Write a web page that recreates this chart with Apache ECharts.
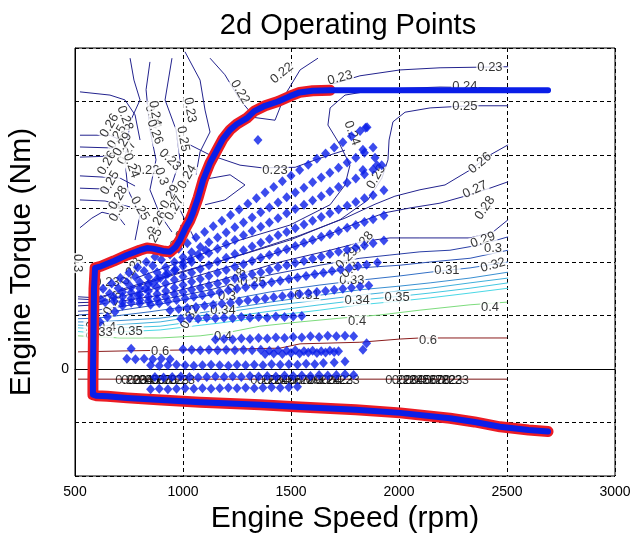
<!DOCTYPE html>
<html>
<head>
<meta charset="utf-8">
<script src="https://cdn.jsdelivr.net/npm/echarts@6/dist/echarts.min.js"></script>
<style>
  html, body { margin: 0; background: #fff; }
  #chart { width: 634px; height: 533px; }
</style>
</head>
<body>
<div id="chart"></div>
<script>
  // 2d operating points over an efficiency map

  const speedTicks = [500, 1000, 1500, 2000, 2500, 3000]
  const torqueRange = [-200, 600]

  // max / min torque envelope [rpm, Nm]
  const torqueCurve = [
    [2690, 521], [2400, 521], [2000, 521], [1681, 521], [1600, 520], [1540, 517], [1495, 510],
    [1440, 500], [1380, 492], [1330, 482], [1296, 469], [1250, 458], [1218, 447], [1185, 430],
    [1157, 409], [1125, 385], [1093, 353], [1070, 320], [1046, 292], [1032, 278], [1010, 262],
    [986, 241], [965, 228], [940, 219], [915, 220], [894, 222], [860, 225], [833, 226], [800, 222],
    [741, 213], [680, 202], [620, 192], [593, 189], [588, 150], [585, 50], [583, -20], [583, -48],
    [600, -50], [650, -51], [741, -54], [900, -58], [1079, -62], [1357, -67], [1542, -71],
    [1800, -76], [2005, -82], [2236, -92], [2350, -99], [2468, -108], [2600, -114], [2690, -117]
  ]

  // measured operating points [rpm, Nm]
  const operatingPoints = [
    // fan streaks
    [620, 130], [660, 141], [700, 151], [740, 162], [780, 172], [820, 183], [860, 193], [900, 204],
    [940, 214], [980, 225], [1020, 235], [1060, 246], [1100, 256], [1140, 267], [1180, 277], [1220, 288],
    [1260, 298], [1300, 309], [1340, 319], [1380, 330], [1420, 340], [1460, 351], [1500, 361], [1540, 372],
    [1580, 382], [1620, 393], [1660, 403], [1700, 414], [1740, 424], [1780, 435], [1820, 445], [1845, 451],
    [640, 125], [680, 134], [720, 144], [760, 153], [800, 162], [840, 172], [880, 181], [920, 190],
    [960, 200], [1000, 209], [1040, 218], [1080, 228], [1120, 237], [1160, 246], [1200, 255], [1240, 265],
    [1280, 274], [1320, 283], [1360, 293], [1400, 302], [1440, 311], [1480, 321], [1520, 330], [1560, 339],
    [1600, 349], [1640, 358], [1680, 367], [1720, 376], [1760, 386], [1800, 395], [1840, 404], [1880, 414],
    [680, 127], [720, 135], [760, 143], [800, 151], [840, 159], [880, 168], [920, 176], [960, 184],
    [1000, 192], [1040, 200], [1080, 209], [1120, 217], [1160, 225], [1200, 233], [1240, 241], [1280, 250],
    [1320, 258], [1360, 266], [1400, 274], [1440, 282], [1480, 291], [1520, 299], [1560, 307], [1600, 315],
    [1640, 323], [1680, 332], [1720, 340], [1760, 348], [1800, 356], [1840, 364], [1880, 373], [1920, 381],
    [720, 125], [760, 132], [800, 139], [840, 146], [880, 153], [920, 160], [960, 167], [1000, 173],
    [1040, 180], [1080, 187], [1120, 194], [1160, 201], [1200, 208], [1240, 215], [1280, 222], [1320, 229],
    [1360, 236], [1400, 243], [1440, 250], [1480, 256], [1520, 263], [1560, 270], [1600, 277], [1640, 284],
    [1680, 291], [1720, 298], [1760, 305], [1800, 312], [1840, 319], [1880, 325], [1930, 334],
    [760, 124], [800, 129], [840, 135], [880, 140], [920, 146], [960, 152], [1000, 157], [1040, 163],
    [1080, 168], [1120, 174], [1160, 180], [1200, 185], [1240, 191], [1280, 196], [1320, 202], [1360, 208],
    [1400, 213], [1440, 219], [1480, 224], [1520, 230], [1560, 236], [1600, 241], [1640, 247], [1680, 252],
    [1720, 258], [1760, 264], [1800, 269], [1840, 275], [1880, 280], [1930, 287],
    [800, 123], [840, 127], [880, 131], [920, 135], [960, 140], [1000, 144], [1040, 148], [1080, 152],
    [1120, 156], [1160, 160], [1200, 165], [1240, 169], [1280, 173], [1320, 177], [1360, 181], [1400, 185],
    [1440, 190], [1480, 194], [1520, 198], [1560, 202], [1600, 206], [1640, 210], [1680, 215], [1720, 219],
    [1760, 223], [1800, 227], [1840, 231], [1880, 235], [1930, 240],
    [850, 120], [890, 123], [930, 126], [970, 129], [1010, 132], [1050, 135], [1090, 138], [1130, 141],
    [1170, 144], [1210, 147], [1250, 150], [1290, 153], [1330, 156], [1370, 159], [1410, 162], [1450, 165],
    [1490, 168], [1530, 171], [1570, 174], [1610, 177], [1650, 180], [1690, 183], [1730, 186], [1770, 189],
    [1810, 192], [1850, 195], [1900, 199],
    [940, 110], [980, 112], [1020, 114], [1060, 116], [1100, 118], [1140, 120], [1180, 122], [1220, 124],
    [1260, 126], [1300, 128], [1340, 130], [1380, 132], [1420, 134], [1460, 136], [1500, 138], [1540, 140],
    [1580, 142], [1620, 144], [1660, 146], [1700, 148], [1740, 150], [1780, 152], [1820, 154], [1860, 156],
    // dense band near the low speed corner
    [616, 88], [650, 97], [685, 107], [720, 118], [790, 138], [825, 150], [860, 160], [895, 170],
    [930, 178], [965, 186], [1000, 198], [1035, 205], [1070, 214], [1105, 222],
    [630, 150], [670, 160], [710, 170], [750, 180], [790, 190], [830, 200], [870, 210], [910, 220],
    // constant torque rows
    [990, 94], [1030, 95], [1070, 94], [1110, 96], [1150, 95], [1190, 96], [1230, 95], [1270, 97],
    [1310, 96], [1350, 97], [1390, 96], [1430, 98], [1470, 97], [1510, 98], [1550, 99],
    [1150, 55], [1190, 56], [1230, 55], [1270, 57], [1310, 56], [1350, 58], [1390, 57], [1430, 59],
    [1470, 58], [1510, 60], [1550, 59], [1590, 61], [1630, 60], [1670, 62], [1710, 61], [1750, 62], [1790, 61],
    [760, 38], [1000, 37], [1040, 36], [1080, 35], [1120, 36], [1160, 35], [1200, 36], [1240, 35],
    [1280, 36], [1320, 35], [1360, 36], [1400, 34], [1440, 35], [1480, 34], [1520, 35], [1560, 33],
    [1600, 34], [1640, 33], [1680, 34], [1720, 33],
    [740, 19], [780, 18], [820, 19], [860, 18], [900, 19], [940, 18], [1380, 28], [1420, 29],
    [1460, 28], [1500, 30], [1540, 29], [1580, 31], [1620, 30], [1660, 31], [1700, 32],
    [850, 7], [890, 6], [930, 7], [970, 8], [1010, 7], [1050, 6], [1090, 7], [1130, 8],
    [1170, 7], [1210, 6], [1250, 8], [1290, 7], [1330, 8], [1370, 7], [1410, 9], [1450, 8],
    [1490, 9], [1530, 8], [1570, 10], [1610, 9], [1650, 11], [1700, 12], [1750, 14],
    [870, -15], [910, -16], [950, -15], [990, -14], [1030, -15], [1070, -16], [1110, -15], [1150, -14],
    [1190, -15], [1230, -14], [1270, -15], [1310, -13], [1350, -14], [1390, -13], [1430, -14], [1470, -12],
    [1510, -13], [1550, -12], [1590, -13], [1630, -11], [1670, -12], [1710, -11], [1750, -10], [1790, -11],
    [850, -38], [890, -37], [930, -38], [970, -37], [1010, -36], [1050, -37], [1090, -36], [1130, -37],
    [1170, -36], [1210, -35], [1250, -36], [1290, -35], [1330, -36], [1370, -35], [1410, -34], [1450, -35],
    [1490, -34], [1530, -33],
    // isolated
    [1347, 428], [1852, 452], [1898, 381], [1833, 410], [1833, 372], [1889, 395], [1833, 36], [1850, 48]
  ]

  // efficiency contours [rpm, Nm]
  const c022 = [[1125, 581], [1194, 550], [1264, 503], [1333, 470], [1426, 465], [1472, 512], [1542, 559], [1625, 581]]
  const c023 = [[1695, 533], [1819, 548], [2005, 559], [2190, 563], [2505, 565]]
  const c024 = [[2505, 525], [2190, 527], [1912, 523], [1750, 512], [1681, 488], [1671, 456], [1727, 419],
    [1773, 381], [1750, 344], [1681, 307], [1495, 269], [1264, 241], [986, 200], [755, 166], [616, 148]]
  const c025 = [[2505, 492], [2329, 492], [2144, 488], [2028, 480], [1972, 462], [1954, 428], [1949, 391],
    [1921, 357], [1856, 316], [1727, 279], [1495, 241], [1218, 207], [940, 176], [708, 148], [602, 129], [514, 131]]
  const c026 = [[2505, 419], [2421, 400], [2329, 372], [2213, 344], [2097, 335], [1981, 323], [1889, 308],
    [1750, 282], [1542, 250], [1310, 219], [1032, 185], [755, 151], [602, 133], [514, 135]]
  const c027 = [[2505, 350], [2421, 338], [2305, 323], [2190, 310], [2051, 301], [1935, 292], [1819, 275],
    [1634, 245], [1403, 213], [1125, 181], [847, 148], [602, 125], [514, 124]]
  const c028 = [[2505, 279], [2435, 256], [2329, 245], [2097, 245], [1958, 245], [1843, 239], [1681, 222],
    [1449, 200], [1171, 166], [894, 138], [602, 120], [514, 118]]
  const c029 = [[2505, 247], [2375, 232], [2236, 222], [2097, 219], [1958, 213], [1819, 207], [1634, 194],
    [1403, 176], [1125, 148], [847, 125], [602, 110], [514, 108]]
  const c030 = [[2505, 222], [2329, 207], [2144, 200], [2005, 194], [1819, 189], [1634, 179], [1403, 163],
    [1125, 138], [847, 118], [602, 103], [514, 101]]
  const c031 = [[2505, 200], [2329, 189], [2144, 181], [2005, 174], [1819, 166], [1634, 157], [1403, 144],
    [1125, 123], [847, 107], [602, 95], [514, 94]]
  const c032 = [[2505, 181], [2329, 170], [2144, 161], [2005, 155], [1819, 148], [1634, 138], [1403, 125],
    [1171, 110], [894, 95], [602, 88], [514, 88]]
  const c033 = [[2505, 170], [2329, 161], [2144, 151], [2005, 146], [1819, 138], [1634, 129], [1403, 118],
    [1171, 105], [894, 88], [602, 80], [514, 82]]
  const c034 = [[2505, 161], [2329, 151], [2144, 142], [2005, 136], [1819, 129], [1634, 120], [1403, 108],
    [1171, 95], [894, 80], [602, 75], [514, 77]]
  const c035 = [[2505, 151], [2329, 142], [2144, 133], [2005, 127], [1819, 120], [1634, 110], [1403, 99],
    [1171, 86], [894, 73], [602, 67], [514, 70]]
  const c040 = [[2500, 125], [2329, 120], [2097, 110], [1912, 101], [1727, 95], [1542, 88], [1356, 80],
    [1218, 69], [1079, 62], [894, 58], [708, 58], [514, 62]]
  const c060 = [[2500, 58], [2097, 58], [2005, 56], [1819, 50], [1542, 47], [1449, 39], [1079, 36], [755, 34], [514, 32]]
  const cLow = [[514, -19], [2500, -19]]

  // tangled contours in the low speed / high torque corner
  const knot = [
    [[523, 518], [662, 512], [731, 503], [778, 475], [801, 428]],
    [[523, 437], [662, 437], [731, 424]],
    [[523, 415], [685, 413], [731, 400]],
    [[523, 396], [671, 398]],
    [[523, 361], [708, 357], [778, 342]],
    [[523, 338], [662, 336]],
    [[523, 316], [639, 314], [755, 303]],
    [[523, 264], [578, 282], [625, 293], [699, 286], [731, 269]],
    [[755, 581], [773, 540], [801, 503], [755, 462], [731, 391], [745, 335], [801, 288], [778, 241]],
    [[847, 574], [829, 522], [847, 447], [875, 391], [847, 335], [894, 288], [949, 256]],
    [[949, 581], [917, 503], [968, 447], [986, 391], [940, 335], [1009, 279], [1056, 241]],
    [[1009, 593], [1079, 540], [1102, 484], [1125, 443], [1079, 406], [1060, 363]],
    [[1032, 419], [1125, 400], [1264, 381], [1366, 376], [1519, 377], [1634, 394], [1750, 409]],
    [[1079, 353], [1218, 363], [1287, 344], [1194, 316], [1102, 307]]
  ]

  // contour labels [rpm, Nm, text, rotation]
  const contourLabels = [
    [2421, 563, '0.23', 0], [1727, 544, '0.23', 15], [2305, 529, '0.24', 0], [2305, 490, '0.25', 0],
    [1782, 441, '0.24', -70], [1894, 359, '0.25', 60], [2375, 385, '0.26', 40], [2352, 335, '0.27', 25],
    [2398, 301, '0.28', 55], [2389, 241, '0.29', 20], [2435, 226, '0.3', 0], [2435, 194, '0.32', 15],
    [2222, 185, '0.31', 0], [1991, 133, '0.35', 0], [2421, 116, '0.4', 0], [2134, 54, '0.6', 0],
    [1806, 88, '0.4', 0], [1185, 60, '0.4', 0], [894, 32, '0.6', 0], [755, 71, '0.35', 0],
    [1426, 372, '0.23', 0], [1458, 553, '0.22', 40], [1264, 518, '0.22', -60], [1032, 484, '0.23', -80],
    [861, 471, '0.24', -70], [1806, 129, '0.34', 0], [1782, 166, '0.33', 0], [1773, 185, '0.3', 40],
    [1833, 236, '0.28', 50], [1759, 207, '0.29', 45], [1574, 138, '0.31', 0],
    [731, 469, '0.28', -70], [694, 434, '0.25', 60], [870, 478, '0.24', -80], [870, 443, '0.26', -70],
    [741, 404, '0.27', 60], [648, 385, '0.26', 60], [833, 372, '0.22', 0], [940, 391, '0.23', -45],
    [1019, 359, '0.24', 60], [662, 348, '0.25', 60], [940, 322, '0.29', 60], [694, 292, '0.3', 60],
    [880, 273, '0.26', 60], [861, 241, '0.25', 60], [986, 247, '0.24', 60], [514, 198, '0.3', -90],
    [648, 161, '0.23', 0], [768, 185, '0.28', 60], [755, 179, '0.22', 60], [676, 123, '0.26', 60],
    [569, 73, '0.5', -90], [648, 77, '0.4', 0], [616, 69, '0.33', 0], [1250, 166, '0.28', 60],
    [1185, 110, '0.34', 0], [1204, 135, '0.3', 0], [1032, 97, '0.32', 60], [1324, 161, '0.25', 0],
    [720, 420, '0.29', 60], [760, 380, '0.24', -70], [700, 320, '0.28', 60], [800, 300, '0.25', -60],
    [960, 300, '0.27', 60], [900, 360, '0.3', -70], [660, 455, '0.26', 60], [1000, 430, '0.25', -80]
  ]

  // piled-up labels on the lowest contour
  const pileSpeeds = [745, 773, 801, 829, 857, 885, 913, 941, 969, 997,
    1370, 1400, 1430, 1460, 1490, 1520, 1550, 1580, 1610, 1640, 1670, 1700, 1730, 1760,
    1995, 2025, 2055, 2085, 2115, 2145, 2175, 2205, 2235, 2265]
  const pileTexts = ['0.22', '0.23', '0.24', '0.25', '0.26', '0.27', '0.28', '0.22', '0.23', '0.23',
    '0.22', '0.23', '0.24', '0.25', '0.26', '0.27', '0.28', '0.29', '0.3', '0.22', '0.24', '0.22', '0.23', '0.23',
    '0.22', '0.23', '0.24', '0.25', '0.26', '0.27', '0.28', '0.22', '0.23', '0.23']
  const pileTorque = -21

  const contours = [
    [c022, '#23238e'], [c023, '#23238e'], [c024, '#23238e'], [c025, '#23238e'], [c026, '#23238e'],
    [c027, '#23238e'], [c028, '#23238e'], [c029, '#2a3ea6'], [c030, '#2e54b6'], [c031, '#3370c6'],
    [c032, '#3a90d2'], [c033, '#3fb0dc'], [c034, '#44c8e2'], [c035, '#4ad8e6'], [c040, '#7ddc7d'],
    [c060, '#8b1c1c'], [cLow, '#7b1414']
  ]

  const blue = '#0a1ee8'
  const red = '#ec1c24'
  const textFont = 'Liberation Sans, Arial, sans-serif'

  const series = []
  contours.concat(knot.map(k => [k, '#23238e'])).forEach(([pts, color]) => {
    series.push({
      type: 'line', data: pts, symbol: 'none', silent: true, z: 1,
      lineStyle: { color: color, width: 1 }
    })
  })

  series.push({
    type: 'scatter', z: 2, silent: true, symbolSize: 0,
    data: contourLabels.map(l => ({
      value: [l[0], l[1]],
      label: { formatter: l[2], rotate: l[3] }
    })),
    label: {
      show: true, position: 'inside', color: '#000', fontSize: 13, fontFamily: textFont,
      backgroundColor: '#fff', padding: [0, 1]
    }
  })

  series.push({
    type: 'scatter', z: 2, silent: true, symbolSize: 0,
    data: pileSpeeds.map((s, i) => ({ value: [s, pileTorque], label: { formatter: pileTexts[i] } })),
    label: { show: true, position: 'inside', color: '#000', fontSize: 13, fontFamily: textFont }
  })

  series.push({
    type: 'scatter', z: 3, silent: true, data: operatingPoints,
    symbol: 'diamond', symbolSize: [9, 10], itemStyle: { color: blue }
  })

  // red measured trace shows around the curve except on the flat top
  series.push({
    type: 'line', z: 4, silent: true, data: torqueCurve.slice(3), symbol: 'none',
    lineStyle: { color: red, width: 11, join: 'round', cap: 'round' }
  })
  series.push({
    type: 'line', z: 5, silent: true, data: torqueCurve, symbol: 'none',
    lineStyle: { color: blue, width: 6, join: 'round', cap: 'round' }
  })

  const axisText = { color: '#000', fontSize: 14, fontFamily: 'Liberation Sans Narrow, Arial Narrow, sans-serif' }
  const gridLine = { show: true, lineStyle: { color: '#000', type: [4, 3], width: 1 } }

  const chart = echarts.init(document.getElementById('chart'))
  chart.setOption({
    animation: false,
    backgroundColor: '#fff',
    title: {
      text: '2d Operating Points', left: 343, top: 6, textAlign: 'center',
      textStyle: { fontSize: 29, fontWeight: 'normal', color: '#000', fontFamily: textFont }
    },
    grid: {
      left: 75, right: 19, top: 48, bottom: 57, show: true, borderColor: '#000', borderWidth: 1,
      outerBoundsMode: 'none'
    },
    xAxis: {
      type: 'value', min: speedTicks[0], max: speedTicks[speedTicks.length - 1], interval: 500,
      name: 'Engine Speed (rpm)', nameLocation: 'middle', nameGap: 25,
      nameTextStyle: { fontSize: 30, color: '#000', fontFamily: textFont },
      axisLine: { lineStyle: { color: '#000' } }, axisTick: { show: false },
      axisLabel: Object.assign({ margin: 9, formatter: v => String(v) }, axisText),
      splitLine: gridLine
    },
    yAxis: {
      type: 'value', min: torqueRange[0], max: torqueRange[1], interval: 100,
      name: 'Engine Torque (Nm)', nameLocation: 'middle', nameGap: 38,
      nameTextStyle: { fontSize: 30, color: '#000', fontFamily: textFont },
      axisLine: { show: true, lineStyle: { color: '#000' } }, axisTick: { show: false },
      axisLabel: Object.assign({ margin: 6, formatter: v => (v === 0 ? '0' : '') }, axisText),
      splitLine: gridLine
    },
    series: series
  })
</script>
</body>
</html>
